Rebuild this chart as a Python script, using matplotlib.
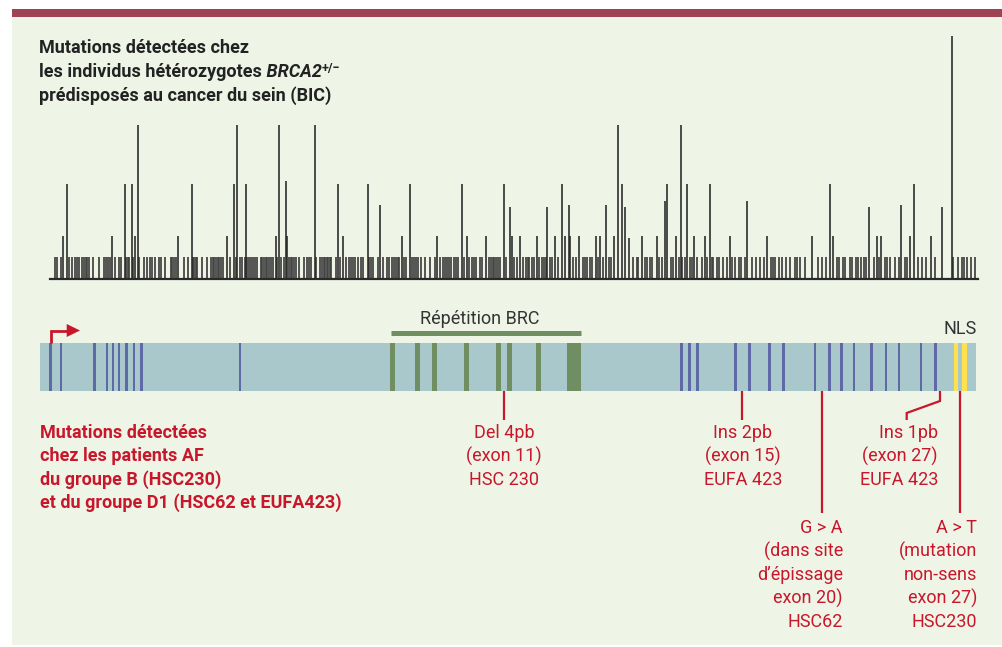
import matplotlib.pyplot as plt
from matplotlib.patches import Rectangle, Polygon

# positions le long du gène (unités de la barre : 0 = début, 936 = fin)
# pics de hauteur 1 (une seule mutation BIC)
pos_petits = [15.0, 17.3, 21.0, 29.3, 31.7, 35.0, 37.3, 39.3, 41.7, 43.7, 45.7, 46.7, 49.3, 52.7, 58.7,
              64.3, 66.0, 68.0, 69.7, 75.0, 78.7, 81.0, 86.0, 87.7, 89.0, 93.3, 99.3, 104.3, 107.3, 110.3,
              112.3, 115.3, 118.7, 121.3, 125.0, 130.7, 132.3, 134.0, 135.7, 144.3, 147.7, 152.7, 154.0,
              155.7, 157.3, 162.3, 166.7, 170.7, 172.7, 174.0, 175.7, 177.7, 179.3, 181.0, 183.0, 190.0,
              196.0, 200.0, 201.7, 204.7, 207.3, 209.0, 210.7, 213.3, 215.3, 217.3, 220.7, 222.3, 224.0,
              225.7, 227.3, 229.3, 231.3, 233.3, 237.3, 240.7, 243.7, 249.3, 251.0, 252.3, 254.3, 255.7,
              258.7, 264.3, 266.7, 268.7, 270.7, 276.0, 280.0, 282.0, 284.0, 285.3, 286.7, 288.0, 289.7,
              291.3, 295.7, 300.0, 306.0, 308.7, 310.7, 312.7, 314.7, 318.0, 321.0, 323.3, 329.3, 331.3,
              333.0, 338.3, 343.0, 346.7, 348.7, 352.3, 354.0, 355.7, 357.7, 359.3, 364.0, 366.3, 372.3,
              374.3, 376.3, 378.3, 380.7, 385.3, 390.0, 395.0, 400.3, 402.7, 404.7, 406.7, 409.0, 411.3,
              413.7, 415.7, 418.0, 423.7, 429.0, 432.3, 434.3, 436.3, 440.3, 442.0, 448.7, 450.7, 452.7,
              454.3, 456.0, 458.0, 460.3, 466.3, 474.3, 476.7, 482.7, 485.7, 487.7, 489.3, 492.0, 494.0,
              499.3, 502.3, 504.0, 505.7, 510.0, 511.7, 517.7, 533.0, 535.7, 542.7, 545.0, 547.3, 550.3,
              552.3, 558.0, 563.3, 568.7, 570.7, 593.3, 596.7, 598.3, 604.7, 607.0, 610.0, 612.3, 619.3,
              621.7, 630.7, 633.3, 639.0, 642.3, 645.0, 649.7, 652.3, 657.0, 661.7, 667.3, 671.7, 673.0,
              676.7, 679.3, 682.7, 687.3, 692.0, 695.0, 698.7, 700.7, 704.7, 711.7, 716.0, 720.0, 723.7,
              731.0, 733.0, 735.3, 739.0, 742.3, 746.0, 749.7, 755.3, 757.3, 760.0, 765.0, 777.7, 782.3,
              786.0, 797.0, 799.0, 803.0, 805.0, 809.7, 811.7, 815.7, 818.0, 820.7, 823.7, 826.3, 833.7,
              839.3, 844.7, 847.0, 850.3, 855.0, 858.7, 864.7, 867.0, 877.7, 882.0, 886.3, 895.3, 912.7,
              917.7, 921.7, 924.3, 927.3, 931.0, 935.3]

# pics plus hauts
pos_grands = [23.3, 27.0, 71.7, 84.7, 91.7, 95.3, 97.7, 137.7, 151.7, 186.7, 193.7, 197.0, 206.3, 236.0,
              239.3, 245.7, 247.3, 275.0, 298.0, 303.0, 327.7, 339.7, 361.7, 370.0, 397.0, 421.7, 426.7,
              446.0, 463.7, 469.7, 472.0, 480.0, 496.7, 507.3, 514.7, 521.7, 524.7, 528.7, 530.3, 538.7,
              555.7, 560.3, 566.3, 574.0, 578.0, 581.7, 585.0, 589.0, 601.7, 616.7, 624.7, 627.3, 636.0,
              640.7, 647.3, 654.3, 664.7, 669.7, 689.7, 707.0, 727.0, 772.0, 789.7, 792.7, 829.3, 836.7,
              841.0, 861.0, 870.0, 874.0, 891.0, 902.3, 911.7]
h_grands = [2, 4.4, 2, 4.4, 4.4, 2, 7.1, 2, 4.4, 2, 4.4, 7.1, 4.4, 2,
            7.1, 4.5, 2, 7.1, 4.4, 2, 4.4, 3.4, 2, 4.4, 2, 4.4, 2,
            2, 4.4, 3.3, 2, 2, 2, 3.3, 2, 4.4, 2, 3.4, 2, 2,
            2, 2, 3.4, 2, 7.1, 4.4, 3.3, 1.9, 2, 2, 3.6, 4.4, 2,
            7.1, 4.4, 2, 2, 4.4, 2, 3.6, 2, 2, 4.4, 2, 3.3, 2,
            2, 3.4, 2, 4.4, 2, 3.3, 11.2]

# exons et domaines
exons_bleus = [10.7, 21, 54.7, 67, 73, 79, 86.7, 94, 101.3, 200, 641.5, 649.7, 657.3, 695.7, 709.3,
               729.3, 743.7, 775, 789.7, 801.3, 814, 831.7, 846, 859, 881, 895.3]
repetitions_brc = [352.7, 377.7, 394, 426.7, 458, 469.7, 498.7]
brc_bloc = [534]
nls = [916, 924.3]
zone_brc = [350.7, 540.7]

# mutations AF
mut_pos = [464.3, 702.3, 782.3, 900, 920]

ROUGE = '#C8172B'
BLEU = '#5E69A6'
VERT = '#6F8F63'

fig = plt.figure(figsize=(10.02, 6.47), dpi=100)

# fond (coordonnées page en pixels)
axp = fig.add_axes([0, 0, 1, 1])
axp.set_xlim(0, 1002)
axp.set_ylim(647, 0)
axp.axis('off')
axp.add_patch(Rectangle((12, 17), 990, 628, color='#EEF5E7', lw=0))
axp.add_patch(Rectangle((12, 9), 990, 8, color='#9E4352', lw=0))

# titre
police = 'Roboto'
axp.text(39, 48, 'Mutations détectées chez', fontsize=13, fontweight='bold', family=police,
         color='#222222', va='center')
t2 = axp.text(39, 72, 'les individus hétérozygotes', fontsize=13, fontweight='bold', family=police,
              color='#222222', va='center')
t3 = axp.annotate(' BRCA2', xy=(1, 0), xycoords=t2, fontsize=13, fontweight='bold', style='italic',
                  family=police, color='#222222', va='bottom', ha='left')
axp.annotate('+/−', xy=(1, 1), xycoords=t3, xytext=(0, 1), textcoords='offset points', fontsize=9,
             fontweight='bold', family=police, color='#222222', va='top', ha='left')
axp.text(39, 96, 'prédisposés au cancer du sein (BIC)', fontsize=13, fontweight='bold', family=police,
         color='#222222', va='center')

# texte rouge à gauche
lignes_af = ['Mutations détectées', 'chez les patients AF', 'du groupe B (HSC230)',
             'et du groupe D1 (HSC62 et EUFA423)']
for i, l in enumerate(lignes_af):
    axp.text(40, 433 + i * 23.3, l, fontsize=13, fontweight='bold', family=police, color=ROUGE,
             va='center')

# annotations des mutations
def bloc(x, y0, lignes, ha):
    for i, l in enumerate(lignes):
        axp.text(x, y0 + i * 23.6, l, fontsize=13, family=police, color=ROUGE, va='center', ha=ha)

bloc(504, 433, ['Del 4pb', '(exon 11)', 'HSC 230'], 'center')
bloc(743, 433, ['Ins 2pb', '(exon 15)', 'EUFA 423'], 'center')
bloc(938, 433, ['Ins 1pb', '(exon 27)', 'EUFA 423'], 'right')
bloc(843, 528, ['G > A', '(dans site', 'd’épissage', 'exon 20)', 'HSC62'], 'right')
bloc(977, 528, ['A > T', '(mutation', 'non-sens', 'exon 27)', 'HSC230'], 'right')

axp.text(480, 319, 'Répétition BRC', fontsize=13, family=police, color='#333333', ha='center', va='center')
axp.text(960, 329, 'NLS', fontsize=13, family=police, color='#333333', ha='center', va='center')

# gène
axg = fig.add_axes([40 / 1002, 0, 936 / 1002, 1])
axg.set_xlim(0, 936)
axg.set_ylim(647, 0)
axg.axis('off')
axg.patch.set_alpha(0)
axg.add_patch(Rectangle((0, 343), 936, 48, color='#A8C8CB', lw=0))
axg.bar(exons_bleus, 48, bottom=343, width=2.8, color=BLEU, lw=0)
axg.bar(repetitions_brc, 48, bottom=343, width=5, color=VERT, lw=0)
axg.bar(brc_bloc, 48, bottom=343, width=14, color=VERT, lw=0)
axg.bar(nls, 48, bottom=343, width=4.7, color='#FFE14D', lw=0)
axg.plot(zone_brc, [333, 333], color=VERT, lw=3.6, solid_capstyle='butt')

# flèche de transcription
axg.plot([exons_bleus[0], exons_bleus[0], 27], [343, 330.5, 330.5], color=ROUGE, lw=2,
         solid_capstyle='butt', solid_joinstyle='miter')
axg.add_patch(Polygon([(26.7, 324), (26.7, 337), (40, 330.5)], closed=True, color=ROUGE, lw=0))

# traits des mutations
kw = dict(color=ROUGE, lw=1.6, solid_capstyle='butt', solid_joinstyle='miter')
axg.plot([mut_pos[0], mut_pos[0]], [391, 420], **kw)
axg.plot([mut_pos[1], mut_pos[1]], [391, 420], **kw)
axg.plot([mut_pos[2], mut_pos[2]], [391, 513], **kw)
axg.plot([mut_pos[3], mut_pos[3], 866.7, 866.7], [391, 401, 413, 420], **kw)
axg.plot([mut_pos[4], mut_pos[4]], [391, 513], **kw)

# pics BIC
axs = fig.add_axes([40 / 1002, (647 - 279) / 647, 936 / 1002, 260 / 647])
axs.set_xlim(0, 936)
axs.set_ylim(0, 260 / 21.7)
axs.axis('off')
axs.patch.set_alpha(0)
axs.vlines(pos_petits, 0, 1, color='#404040', lw=1.25)
axs.vlines(pos_grands, 0, h_grands, color='#262626', lw=1.15)
axs.plot([10, 938], [0, 0], color='#2a2a2a', lw=1.6, clip_on=False)

fig.savefig('out.png', dpi=100)
